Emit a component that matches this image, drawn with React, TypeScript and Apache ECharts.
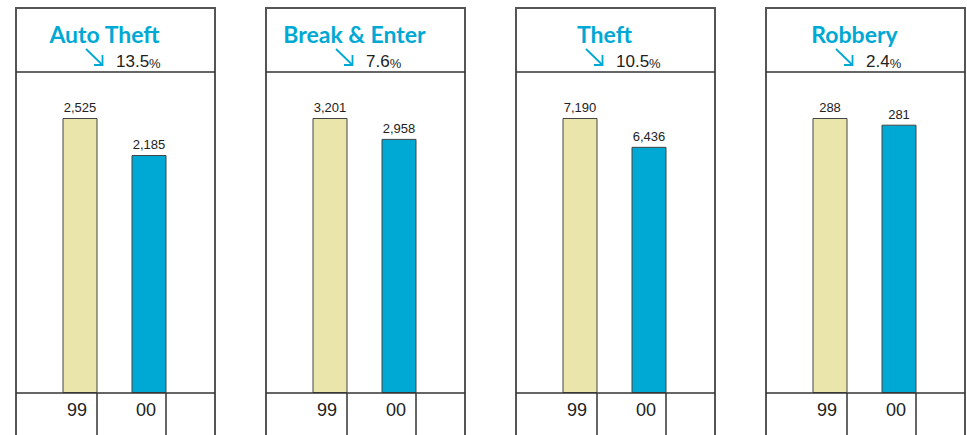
import React, { useEffect, useRef } from 'react';
import * as echarts from 'echarts';

// ---- data ----
const crimeTypes = ['Auto Theft', 'Break & Enter', 'Theft', 'Robbery'];
const years = ['99', '00'];
const counts99 = [2525, 3201, 7190, 288];
const counts00 = [2185, 2958, 6436, 281];
const pctDrop = ['13.5', '7.6', '10.5', '2.4'];

// ---- layout / style ----
const W = 967;
const H = 435;
const PANEL_X0 = 16;
const PANEL_STEP = 250;
const PANEL_W = 199;
const FRAME_TOP = 8;
const HEADER_Y = 72;
const BASE_Y = 393;
const PLOT_TOP = 118;
const BAR_W = 35;
const BAND_W = 69;
const BAR_LEFT = 46.5; // local offset of first bar's left edge

const CYAN = '#00a9d4';
const BEIGE = '#eae5ab';
const FRAME = '#555555';
const INK = '#222222';
const NUM_FONT = '"Liberation Sans", Arial, sans-serif';
const TITLE_FONT = 'Lato, "Open Sans", sans-serif';

export default function App() {
  const ref = useRef<HTMLDivElement>(null);

  useEffect(() => {
    if (!ref.current) return;
    const chart = echarts.init(ref.current, null, { renderer: 'svg', width: W, height: H });

    const grids: any[] = [];
    const xAxes: any[] = [];
    const yAxes: any[] = [];
    const series: any[] = [];
    const graphics: any[] = [];

    crimeTypes.forEach((name, i) => {
      const L = PANEL_X0 + i * PANEL_STEP;
      const vals = [counts99[i], counts00[i]];
      grids.push({
        left: L + BAR_LEFT,
        width: BAND_W * years.length,
        top: PLOT_TOP,
        height: BASE_Y - PLOT_TOP,
        containLabel: false,
      });
      xAxes.push({
        type: 'category',
        gridIndex: i,
        data: years,
        boundaryGap: true,
        axisLine: { show: false },
        axisTick: {
          show: true,
          alignWithLabel: true,
          length: 50,
          lineStyle: { color: '#333', width: 1.5 },
        },
        axisLabel: {
          show: true,
          align: 'right',
          verticalAlign: 'middle',
          margin: 17,
          padding: [0, 10, 0, 0],
          fontSize: 18,
          fontFamily: NUM_FONT,
          color: INK,
        },
        splitLine: { show: false },
      });
      yAxes.push({
        type: 'value',
        gridIndex: i,
        min: 0,
        max: Math.max(...vals),
        show: false,
        splitLine: { show: false },
      });
      series.push({
        type: 'bar',
        xAxisIndex: i,
        yAxisIndex: i,
        barWidth: BAR_W,
        barGap: '0%',
        data: vals.map((v, j) => ({
          value: v,
          itemStyle: { color: j === 0 ? BEIGE : CYAN, borderColor: '#444', borderWidth: 1 },
        })),
        label: {
          show: true,
          position: 'top',
          distance: 4,
          fontSize: 13,
          fontFamily: NUM_FONT,
          color: INK,
          formatter: (p: any) => Number(p.value).toLocaleString('en-US'),
        },
      });
      // spacer series so the visible bar sits left of the tick
      series.push({
        type: 'bar',
        xAxisIndex: i,
        yAxisIndex: i,
        barWidth: BAND_W - BAR_W,
        barGap: '0%',
        silent: true,
        data: years.map(() => '-'),
        itemStyle: { color: 'transparent' },
      });

      // frame
      graphics.push({
        type: 'rect',
        shape: { x: L, y: FRAME_TOP, width: PANEL_W, height: H + 20 },
        style: { fill: 'none', stroke: FRAME, lineWidth: 2 },
        silent: true,
      });
      graphics.push({
        type: 'line',
        shape: { x1: L, y1: HEADER_Y, x2: L + PANEL_W, y2: HEADER_Y },
        style: { stroke: '#333', lineWidth: 1.5 },
        silent: true,
      });
      graphics.push({
        type: 'line',
        shape: { x1: L, y1: BASE_Y, x2: L + PANEL_W, y2: BASE_Y },
        style: { stroke: '#333', lineWidth: 1.5 },
        silent: true,
        z: 10,
      });
      // title
      graphics.push({
        type: 'text',
        x: L + 88.5,
        y: 34,
        style: {
          text: name,
          fill: CYAN,
          font: `bold 23px ${TITLE_FONT}`,
          align: 'center',
          verticalAlign: 'middle',
        },
        silent: true,
      });
      // arrow
      graphics.push({
        type: 'line',
        shape: { x1: L + 70, y1: 49, x2: L + 86.5, y2: 65 },
        style: { stroke: CYAN, lineWidth: 1.8 },
        silent: true,
      });
      graphics.push({
        type: 'polyline',
        shape: { points: [[L + 78, 65], [L + 86.5, 65], [L + 86.5, 55]] },
        style: { stroke: CYAN, lineWidth: 1.8, fill: 'none' },
        silent: true,
      });
      // percentage
      graphics.push({
        type: 'text',
        x: L + 100,
        y: 70,
        style: {
          text: `{n|${pctDrop[i]}}{p|%}`,
          align: 'left',
          verticalAlign: 'bottom',
          rich: {
            n: { fontSize: 17, fontFamily: NUM_FONT, fill: INK, lineHeight: 18, verticalAlign: 'bottom' },
            p: { fontSize: 13, fontFamily: NUM_FONT, fill: INK, lineHeight: 18, verticalAlign: 'bottom' },
          },
        },
        silent: true,
      });
    });

    chart.setOption({
      animation: false,
      backgroundColor: '#ffffff',
      grid: grids,
      xAxis: xAxes,
      yAxis: yAxes,
      series,
      graphic: graphics,
    });

    return () => chart.dispose();
  }, []);

  return (
    <div
      ref={ref}
      style={{ position: 'fixed', left: 0, top: 0, width: W, height: H, background: '#fff' }}
    />
  );
}
